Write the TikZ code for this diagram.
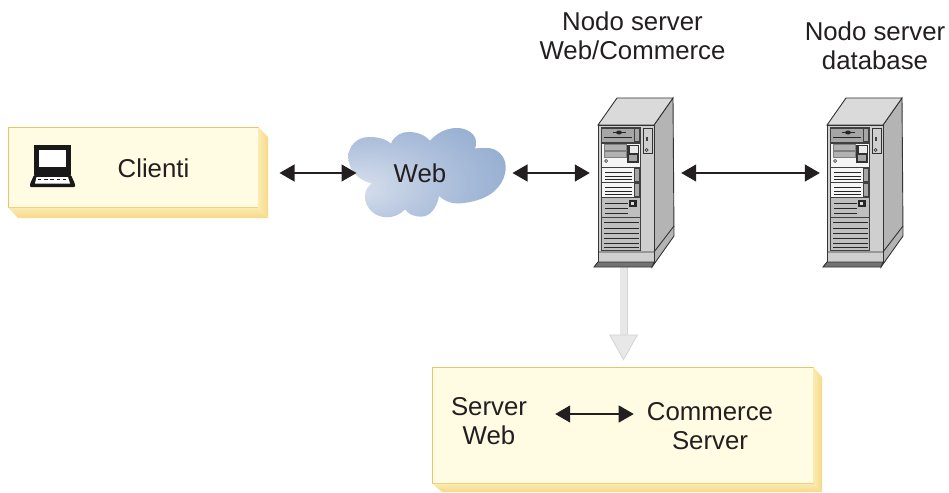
\documentclass[tikz,border=0pt]{standalone}
\usepackage{fontspec}
\setmainfont{Liberation Sans}
\usetikzlibrary{arrows.meta}
\definecolor{inkblack}{HTML}{231F20}
\definecolor{boxfill}{HTML}{FFFCE3}
\definecolor{boxedge}{HTML}{EFC264}
\definecolor{shadelight}{HTML}{FBEBB2}
\definecolor{shadedark}{HTML}{F6D987}
\definecolor{srvfront}{HTML}{CFCFCF}
\definecolor{srvside}{HTML}{B4B4B4}
\definecolor{srvtop}{HTML}{DADADA}
\pgfdeclareradialshading{webglow}{\pgfpoint{-24bp}{-9bp}}{%
	rgb(0bp)=(0.85,0.88,0.93);
	rgb(25bp)=(0.68,0.75,0.86);
	rgb(50bp)=(0.54,0.65,0.80);
	rgb(100bp)=(0.54,0.65,0.80)}
\tikzset{
	yellowbox/.style={draw=boxedge,line width=1pt,fill=boxfill,inner sep=0pt},
	sideshade/.style={left color=shadelight,right color=shadedark},
	footshade/.style={top color=shadelight,bottom color=shadedark},
	txtlabel/.style={text=inkblack,font=\fontsize{25.8}{28.8}\selectfont,align=center,inner sep=0pt},
	biarrow/.style={{Triangle[length=15pt,width=17pt]}-{Triangle[length=15pt,width=17pt]},line width=1.2pt,inkblack},
	srvline/.style={draw=black!80,line width=0.9pt},
}
\begin{document}
\begin{tikzpicture}[x=1pt,y=-1pt]
\useasboundingbox (0,0) rectangle (949,492);
%%%  boxes with their shadow
\node[yellowbox,minimum width=250pt,minimum height=80pt] (clientibox) at (133,167) {};
\node[yellowbox,minimum width=381pt,minimum height=116pt] (nodebox) at (622.5,425) {};
\path[footshade] (8,207.5) -- (258.5,207.5) -- (268,218) -- (18,218) -- cycle;
\path[sideshade] (258.5,127) -- (268,137) -- (268,218) -- (258.5,207.5) -- cycle;
\path[footshade] (432,483.5) -- (813.5,483.5) -- (822,492) -- (442,492) -- cycle;
\path[sideshade] (813.5,367) -- (822,377) -- (822,492) -- (813.5,483.5) -- cycle;

%%%  laptop
\fill[black!90] (33.5,145) rectangle (71,174.5);
\fill[white] (38.5,150) rectangle (66,167);
\fill[black!90,rounded corners=1pt] (34,175) -- (71,175) -- (75,184) -- (75,187) -- (30,187) -- (30,184) -- cycle;
\fill[white] (36.5,177) -- (68,177) -- (70,183.5) -- (35,183.5) -- cycle;
\foreach \i in {0,...,4}{%
	\fill[black!90] (38+6.2*\i,178.5) rectangle +(3.4,1.6);}

%%%  cloud
\path[shading=webglow] (371.7,183.5)
	.. controls (358,180) and (348.3,170) .. (348.3,157)
	.. controls (348.3,146) and (357,137) .. (369,137)
	.. controls (378,137) and (386,139) .. (391,143.5)
	.. controls (394,136) and (401,132) .. (409,132)
	.. controls (417,132) and (425,135) .. (430,140.7)
	.. controls (437,133) and (446,128) .. (457,128)
	.. controls (467,128) and (476,134) .. (476,142)
	.. controls (476,145) and (476,147) .. (475,148.5)
	.. controls (479,148) and (483,148) .. (487,148)
	.. controls (497,148) and (505.7,156) .. (505.7,167)
	.. controls (505.7,183) and (494,195) .. (478,200)
	.. controls (471,202) and (464,203.5) .. (457,203.5)
	.. controls (450,203.5) and (443,200) .. (439,196)
	.. controls (437,208) and (430,216.7) .. (421,216.7)
	.. controls (414,216.7) and (408,214) .. (405,209.3)
	.. controls (401,214) and (394,217.3) .. (387,217.3)
	.. controls (375,217.3) and (365,208) .. (365,197)
	.. controls (365,191) and (367,187) .. (371.7,183.5) -- cycle;

%%%  grey arrow below the first server
\coordinate (srvfoot) at (623.5,264);
\draw[line width=8pt,black!17] (srvfoot) -- ([yshift=31pt]srvfoot |- nodebox.north);
\draw[line width=6.4pt,black!9,-{Triangle[length=26pt,width=29pt,fill=black!9,color=black!17,line width=0.8pt]}]
	(srvfoot) -- ([yshift=6pt]srvfoot |- nodebox.north);

%%%%%%%%% draw servers %%%%%%%%
\foreach \dx/\nm in {0/srvcomm,229/srvdb}{%
\begin{scope}[xshift=\dx pt]
	\node[minimum width=75pt,minimum height=100pt,inner sep=0pt] (\nm) at (635.5,173) {};
	\filldraw[srvline,fill=srvside] (654,125) -- (673,98) -- (674,236) -- (652,267) -- (654,252) -- cycle;
	\filldraw[srvline,fill=srvtop] (598,125) -- (617,98) -- (673,98) -- (654,125) -- cycle;
	\filldraw[srvline,fill=srvfront] (598,125) rectangle (654,262);
	\filldraw[srvline,fill=black!55] (598,262) -- (654,262) -- (652,267) -- (594,267) -- cycle;
	\draw[srvline] (598,252) -- (654,252) -- (674,226);
	\fill[black!75] (601,127) rectangle (641,251);
	% side panel
	\filldraw[srvline,fill=srvfront] (643.5,128) rectangle (652,153);
	\fill[black!75] (645.5,137) rectangle (647.5,141);
	\draw[black!75,line width=0.7pt] (646.5,150) circle (1.5);
	% top bay
	\fill[black!35] (602,128.5) rectangle (633.5,141.5);
	\fill[black!35] (634.5,129) rectangle (639,141);
	\draw[black!85,line width=1pt] (613,132.5) -- (626,132.5);
	\fill[black!85] (619,132.5) ellipse (3 and 2);
	\draw[black!85,line width=1pt] (604,137.5) -- (632,137.5);
	% white bay with drive
	\fill[black!4] (602,144) rectangle (640,167);
	\filldraw[black!50,fill=black!30,line width=0.5pt] (604,144.5) rectangle (626,150);
	\filldraw[black!50,fill=black!30,line width=0.5pt] (604,151) rectangle (626,157);
	\fill[black!80] (627,145) rectangle (639,163);
	\fill[black!8] (630,146) rectangle (638,153);
	\fill[black!35] (629,155) rectangle (637,161);
	\draw[black!70,line width=0.7pt] (606,161) circle (1.5);
	% two drive bays
	\foreach \yb in {168,183}{%
		\fill[black!4] (602,\yb) rectangle (633.5,\yb+13.5);
		\fill[black!35] (634.5,\yb+0.5) rectangle (639,\yb+13);
		\foreach \yl in {4,8,11.5}{%
			\draw[black!85,line width=0.9pt] (605,\yb+\yl) -- (632,\yb+\yl);}
	}
	% lower bays
	\fill[black!25] (602,198) rectangle (640,217);
	\fill[black!85] (629,200) rectangle (637,207);
	\fill[black!15] (631,202) rectangle (634,205);
	\foreach \yl in {203,208,213}{%
		\draw[black!85,line width=0.9pt] (605,\yl) -- (628,\yl);}
	\fill[black!25] (602,218) rectangle (640,250);
	\foreach \yl in {222,228,233,238,243,247}{%
		\draw[black!85,line width=0.9pt] (604,\yl) -- (639,\yl);}
\end{scope}
}

%%%%%%%%% draw texts %%%%%%%%
\node[txtlabel] (clienti) at (153.5,168) {Clienti};
\node[txtlabel] (web) at (420,173) {Web};
\node[txtlabel] (nodocomm) at (632.5,36) {Nodo server\\Web/Commerce};
\node[txtlabel] (nododb) at (875,46) {Nodo server\\database};
\node[txtlabel] (srvweb) at (489,421.5) {Server\\Web};
\node[txtlabel] (comsrv) at (710,426.5) {Commerce\\Server};

%%%%%%%%% draw arrows %%%%%%%%
\draw[biarrow,shorten <=21pt,shorten >=37pt] ([yshift=-6pt]clientibox.east) -- (web.west);
\draw[biarrow,shorten <=66pt,shorten >=8pt] (web.east) -- (srvcomm.west);
\draw[biarrow,shorten <=8pt,shorten >=7pt] (srvcomm.east) -- (srvdb.west);
\draw[biarrow,shorten <=28pt,shorten >=13pt] ([yshift=7.5pt]srvweb.east) -- ([yshift=12.5pt]comsrv.west);
\end{tikzpicture}
\end{document}
